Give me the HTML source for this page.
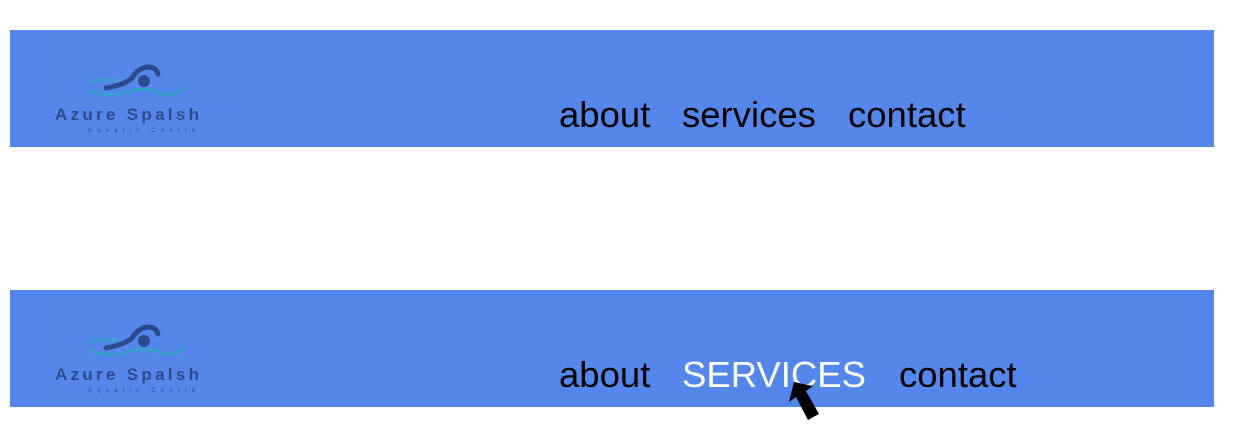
<!DOCTYPE html>
<html><head><meta charset="utf-8"><style>
body{margin:0;width:1242px;height:448px;background:#fff;position:relative;overflow:hidden;font-family:"Liberation Sans",sans-serif}
.bar{position:absolute;left:10px;width:1204px;height:117px;background:#5486EC}
.t{position:absolute;font-size:36.5px;line-height:36px;color:#000;white-space:nowrap}
.logo{position:absolute;left:44px;width:170px;height:90px}
.name{position:absolute;left:11px;top:47px;font-size:17px;font-weight:bold;color:#2c4b8c;letter-spacing:3.3px;white-space:nowrap}
.sub{position:absolute;left:44px;top:70px;font-size:6px;color:#2c4b8c;letter-spacing:5.2px;white-space:nowrap}
</style></head><body>
<div class="bar" style="top:30px"></div>
<div class="bar" style="top:290px"></div>

<div class="logo" style="top:58px">
<svg width="170" height="50" style="position:absolute;left:0;top:0">
<path d="M62 30 Q80 27 88 20 Q94 10 104 9 Q112 9 114 16" stroke="#2c4b8c" stroke-width="5" fill="none" stroke-linecap="round"/>
<circle cx="100" cy="23" r="6" fill="#2c4b8c"/>
<path d="M46 24 Q60 20 75 23" stroke="#3a9ec9" stroke-width="3" fill="none"/>
<path d="M46 32 Q62 40 82 34 Q102 28 120 36 Q130 38 140 30" stroke="#3a9ec9" stroke-width="3" fill="none"/>
</svg>
<div class="name">Azure Spalsh</div>
<div class="sub">Aquatic Centre</div>
</div>
<div class="logo" style="top:318px">
<svg width="170" height="50" style="position:absolute;left:0;top:0">
<path d="M62 30 Q80 27 88 20 Q94 10 104 9 Q112 9 114 16" stroke="#2c4b8c" stroke-width="5" fill="none" stroke-linecap="round"/>
<circle cx="100" cy="23" r="6" fill="#2c4b8c"/>
<path d="M46 24 Q60 20 75 23" stroke="#3a9ec9" stroke-width="3" fill="none"/>
<path d="M46 32 Q62 40 82 34 Q102 28 120 36 Q130 38 140 30" stroke="#3a9ec9" stroke-width="3" fill="none"/>
</svg>
<div class="name">Azure Spalsh</div>
<div class="sub">Aquatic Centre</div>
</div>

<div class="t" style="left:559px;top:97px">about</div>
<div class="t" style="left:682px;top:97px">services</div>
<div class="t" style="left:848px;top:97px">contact</div>

<div class="t" style="left:559px;top:357px">about</div>
<div class="t" style="left:682px;top:357px;color:#fff">SERVICES</div>
<div class="t" style="left:899px;top:357px">contact</div>

<svg width="1242" height="448" style="position:absolute;left:0;top:0">
<polygon points="794,382 813,386 806,391 819,414 808,420 796,397 789,402" fill="#000"/>
</svg>
</body></html>
